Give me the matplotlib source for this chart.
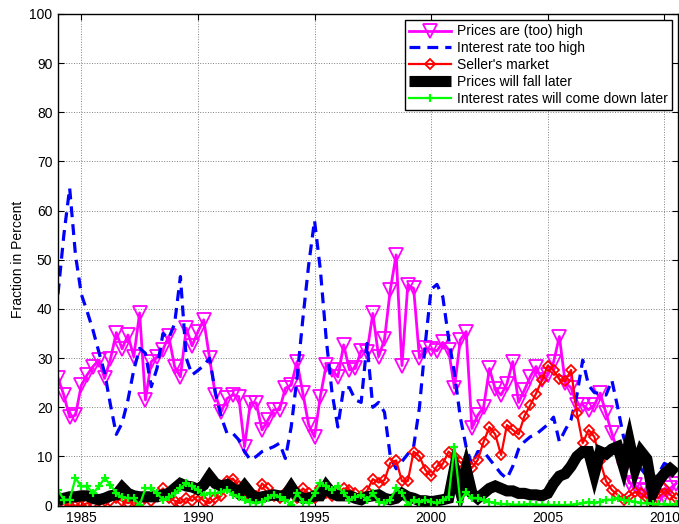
import numpy as np
import pandas as pd
import matplotlib
matplotlib.use("Agg")
import matplotlib.pyplot as plt

plt.rcParams["font.family"] = ["Liberation Sans", "DejaVu Sans"]

# ===== Quarterly survey shares (percent), 1984Q1 .. 2010Q3 =====
quarters = pd.period_range("1984Q1", periods=107, freq="Q")

prices_high = [
    26, 22.5, 18, 18.4, 24.5, 26.6, 28.3, 29.6, 25.9, 29.8,
    35.2, 31.9, 34.7, 30.3, 39.2, 21.5, 29.3, 30.3, 31.7, 34.5,
    28.3, 26.2, 36.1, 32.5, 35.4, 37.8, 30, 22.5, 19.1, 21.8,
    22.5, 22.2, 12, 20.9, 20.9, 15.4, 17.4, 19.5, 19.5, 23.9,
    24.5, 29.3, 22.9, 16.4, 14, 22.2, 28.6, 27.6, 26.2, 32.7,
    27.6, 27.9, 31.5, 31.2, 39.1, 30.3, 33.8, 43.9, 51, 28.5,
    44.9, 44.2, 30, 32, 31.8, 31.5, 33.2, 31.7, 23.9, 33.7,
    35.4, 15.7, 18.4, 20, 27.9, 23.7, 22.5, 24.8, 29.3, 21,
    23.5, 26.2, 28.3, 25.5, 26.6, 29.2, 34.4, 25, 24, 20.5,
    20.5, 19.5, 20.5, 22.9, 18.8, 14.7, 11, 7.5, 4.6, 4.2,
    3.2, 3, 2.5, 1.5, 2, 3.5, 4.5,
]

rate_high = [
    43, 55, 64.6, 51, 43, 39.5, 35.7, 31.3, 27, 20.5,
    14.5, 16.8, 21.5, 27.6, 32, 31, 24.2, 28, 35, 34,
    37, 46.6, 30, 26.6, 27.5, 28.5, 30, 23, 18, 14.7,
    14.7, 13.4, 11, 9.3, 10, 11, 11.5, 12, 12.7, 9.6,
    16, 26, 38, 49, 58, 48, 34, 23, 16, 24,
    24, 21.5, 21, 33, 20, 21, 19, 10, 7.5, 9,
    10.5, 12, 20, 33, 44, 45, 42.5, 34, 27, 18,
    12, 8.3, 11, 11, 9.5, 8, 6.5, 5.5, 8, 11.5,
    13, 14, 14.5, 15.5, 16.5, 18, 13, 15.4, 17.5, 22.5,
    29.6, 24.5, 23, 22.8, 22.5, 25.5, 20, 14, 10.5, 9,
    7.5, 6, 5, 6.5, 8.6, 8, 6.8,
]

sellers_market = [
    1, 0.5, 0, 0, 0, 0.5, 0.5, 1, 1, 1,
    1.5, 1, 0.5, 1, 0.5, 1.5, 1, 2, 3.5, 1.5,
    1, 0.5, 1.5, 1, 2, 1, 0.5, 1.5, 2, 5,
    5.5, 4, 2, 1.5, 2, 4.5, 3.5, 2, 1.5, 2.5,
    3, 1.5, 3.5, 2.5, 1.5, 3.5, 2.5, 2, 2.5, 3.5,
    3.2, 2.5, 2, 3, 5.4, 4.7, 5.2, 8.7, 9.2, 5,
    5, 11, 10, 7.3, 6, 8, 8.5, 11, 10, 8.8,
    8.6, 7.7, 9.3, 13, 16, 14.5, 10.3, 16.4, 15.4, 14.5,
    18.2, 20.4, 22.8, 25.5, 28.5, 27.5, 25.7, 25.3, 27.6, 18.8,
    12.7, 15.4, 14, 9, 5, 3.2, 2.2, 1.2, 2, 2.8,
    2.5, 1.5, 0.5, 2.5, 3.5, 2.2, 1.5,
]

prices_fall = [
    1, 1.5, 1.8, 1.8, 2, 2, 1.5, 1.2, 1.5, 2,
    2.2, 3.7, 2.5, 2, 1.8, 1.8, 1.8, 1.8, 2.2, 2.5,
    3.5, 4.5, 4, 3.8, 3.3, 4.2, 6, 4.5, 4, 4.3,
    3.5, 2.5, 4, 2.5, 1.5, 1.8, 2, 2.2, 2, 2,
    3.8, 2, 1.5, 1.5, 2, 2, 4, 2.5, 2, 2,
    2, 1.5, 1.2, 1.8, 2, 2.2, 1.5, 1.2, 1.5, 2.5,
    1.8, 1.5, 1, 1, 0.8, 1, 1.2, 1.5, 7.5, 3,
    7.5, 2.5, 1.5, 2.5, 3.5, 4, 3.5, 3, 3, 2.5,
    2.5, 2.2, 2.2, 2, 2.5, 4.5, 6, 6.5, 8, 10,
    11, 11, 6.5, 11, 10.5, 11.5, 12, 8, 13, 7.5,
    11, 9.5, 2.5, 5, 6.5, 7.5, 6.5,
]

rates_down = [
    3.2, 1.2, 1.2, 5.6, 3.9, 3.9, 2.5, 3.9, 5.6, 4.2,
    2.5, 1.8, 1.5, 1.5, 0.1, 3.5, 3.5, 2.5, 1.2, 1.8,
    2.5, 3.5, 4.6, 3.9, 3.2, 2.2, 2.5, 2.5, 2.8, 3.2,
    2.2, 1.8, 1.2, 0.8, 0.5, 0.8, 1.5, 2.2, 1.8, 1.2,
    0.1, 2.5, 0.8, 0.5, 2.5, 4.6, 3.9, 3.2, 3.9, 2.5,
    1.2, 1.8, 2.2, 1.2, 2.5, 0.8, 0.5, 1.2, 3.5, 2.5,
    0.1, 1.2, 0.8, 1.2, 0.8, 0.5, 1.2, 1.8, 12, 0.8,
    2.8, 1.5, 1.5, 1.2, 0.8, 0.5, 0.3, 0.3, 0.2, 0.2,
    0.2, 0.3, 0.2, 0.2, 0.2, 0.1, 0.1, 0.1, 0.2, 0.3,
    0.5, 0.8, 0.5, 0.8, 1.2, 1.2, 1.5, 1.2, 1.0, 0.8,
    0.5, 0.5, 0.3, 0.3, 0.3, 0.2, 0.3,
]

# decimal year of each quarter start
t = quarters.year + (quarters.quarter - 1) / 4.0

# ===== Plot =====
fig = plt.figure(figsize=(6.79, 5.24), dpi=100)
ax = fig.add_axes([0.0854, 0.035, 0.9136, 0.9383])

ax.plot(t, prices_high, color="#ff00ff", lw=2, marker="v", ms=10,
        mfc="none", mec="#ff00ff", mew=1.3, label="Prices are (too) high")
ax.plot(t, rate_high, color="#0000ff", lw=2.3, ls=(0, (3.4, 2.2)),
        label="Interest rate too high")
ax.plot(t, sellers_market, color="#ff0000", lw=1.6, marker="D", ms=5.5,
        mfc="none", mec="#ff0000", mew=1.3, label="Seller's market")
ax.plot(t, prices_fall, color="black", lw=8, solid_joinstyle="miter",
        solid_capstyle="butt", label="Prices will fall later")
ax.plot(t, rates_down, color="#00ff00", lw=1.6, marker="+", ms=6,
        mew=1.6, label="Interest rates will come down later")

ax.set_xlim(1984, 2010.6)
ax.set_ylim(0, 100)
ax.set_xticks(range(1985, 2011, 5))
ax.set_yticks(range(0, 101, 10))
ax.tick_params(direction="in", top=True, right=True, length=4, width=0.8,
               labelsize=10, pad=4)
ax.grid(True, ls=":", color="#808080", lw=0.7)
for s in ax.spines.values():
    s.set_linewidth(1.0)

ax.set_ylabel("Fraction in Percent", fontsize=10, labelpad=3)

leg = ax.legend(loc="upper right", fontsize=10, handlelength=3.0,
                labelspacing=0.2, borderpad=0.3, handletextpad=0.45,
                borderaxespad=0.45, fancybox=False, framealpha=1)
leg.get_frame().set_edgecolor("black")
leg.get_frame().set_linewidth(1.0)

fig.savefig("out.png", dpi=100)
